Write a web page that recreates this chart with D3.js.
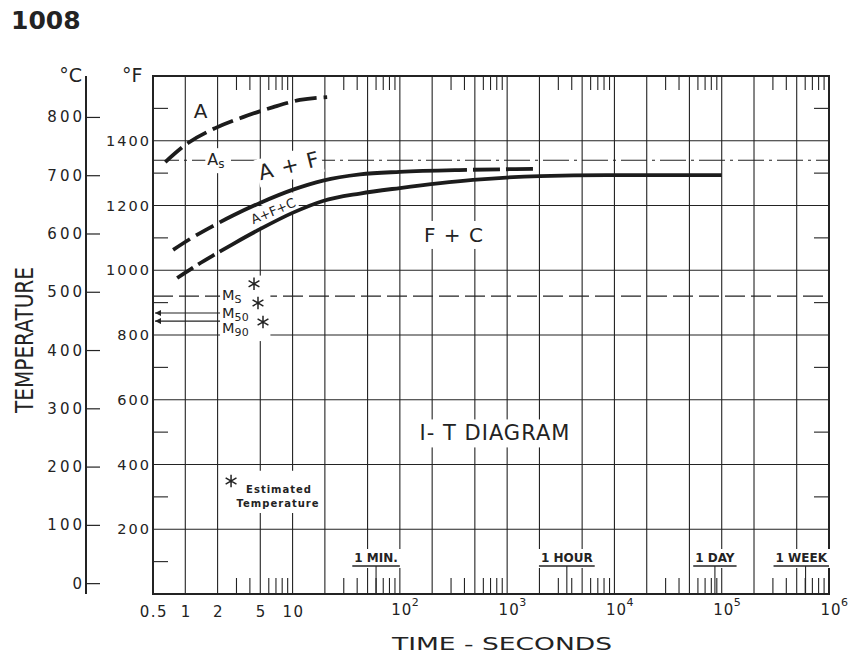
<!DOCTYPE html>
<html>
<head>
<meta charset="utf-8">
<script src="https://cdn.jsdelivr.net/npm/d3@7"></script>
<style>
  body { margin: 0; background: #fff; }
  svg { display: block; font-family: "DejaVu Sans", sans-serif; }
</style>
</head>
<body>
<div id="chart"></div>
<script>
// ---- data (time in seconds, temperature in deg F) ----
const timeDomain = [0.5, 1e6];
const tempDomainF = [0, 1600];

const gridTimes = [1, 2, 5, 10, 20, 50, 100, 200, 500, 1e3, 2e3, 5e3, 1e4, 2e4, 5e4, 1e5, 2e5, 5e5];
const decades = [1, 10, 100, 1e3, 1e4, 1e5];
const minorMults = [3, 4, 6, 7, 8, 9];
const smallTimeTicks = [0.5, 1, 2, 5, 10];
const powerTimeTicks = [2, 3, 4, 5, 6];

const fTicks = [200, 400, 600, 800, 1000, 1200, 1400];
const fMinorTicks = [100, 300, 500, 700, 900, 1100, 1300, 1500];
const cTicks = [0, 100, 200, 300, 400, 500, 600, 700, 800];

// transformation curves
const austeniteLine = [[0.65, 1334], [1.06, 1393], [1.9, 1439], [3.45, 1473], [6.6, 1504], [11.7, 1526], [21, 1535]];
const ferriteStart = [[0.77, 1063], [1.15, 1100], [1.77, 1135], [2.78, 1169], [4.97, 1208], [10.1, 1249], [19.2, 1277], [42.5, 1296], [100, 1304], [422, 1310], [1740, 1313]];
const ferriteSolid = [2.02, 422];     // solid between these times, dashed outside
const carbideStart = [[0.84, 976], [1.23, 1012], [1.89, 1049], [2.78, 1081], [4.97, 1127], [10.1, 1178], [19.2, 1214], [42.5, 1237], [100, 1254], [480, 1279], [2022, 1291], [8510, 1294], [1e5, 1294]];
const carbideSolid = [2.2, 1e5];

// critical temperatures
const asTemp = 1340;
const msTemp = 920;
const mArrows = [{sub: "50", f: 868}, {sub: "90", f: 843}];
const mEstimates = [[4.37, 958], [4.76, 899], [5.3, 840]];
const estimateKey = [2.67, 349];

// labels placed in data units
const regionLabels = [
  {text: "A", t: 1.4, f: 1492},
  {text: "A + F", t: 9.3, f: 1322},
  {text: "A+F+C", t: 6.6, f: 1183},
  {text: "F + C", t: 319, f: 1109},
  {text: "I- T DIAGRAM", t: 770, f: 496}
];
const timeMarks = [
  {text: "1 MIN.", t: 60},
  {text: "1 HOUR", t: 3600},
  {text: "1 DAY", t: 86400},
  {text: "1 WEEK", t: 604800}
];

// ---- styles ----
const ink = "#232323";
const labelStyle = {
  "A": {size: 20, angle: 0},
  "A + F": {size: 21, angle: -14},
  "A+F+C": {size: 13, angle: -23},
  "F + C": {size: 20, angle: 0},
  "I- T DIAGRAM": {size: 21, angle: 0}
};

const W = 854, H = 657;
const svg = d3.select("#chart").append("svg")
  .attr("width", W).attr("height", H);

svg.append("rect").attr("width", W).attr("height", H).attr("fill", "#fff");

const x = d3.scaleLog().domain(timeDomain).range([153, 829]);
const y = d3.scaleLinear().domain(tempDomainF).range([594, 76]);
const yC = c => y(c * 9 / 5 + 32);

// arrow marker for the M50 / M90 pointers
svg.append("defs").append("marker")
  .attr("id", "arrow")
  .attr("viewBox", "0 0 10 10")
  .attr("refX", 10).attr("refY", 5)
  .attr("markerUnits", "userSpaceOnUse")
  .attr("markerWidth", 9).attr("markerHeight", 6)
  .attr("orient", "auto-start-reverse")
  .append("path").attr("d", "M0,0L10,5L0,10z").attr("fill", ink);

// wraps a group in a white box so grid lines break behind it
function whiteBox(g, pad) {
  const b = g.node().getBBox();
  g.insert("rect", ":first-child")
    .attr("x", b.x - pad).attr("y", b.y - pad)
    .attr("width", b.width + 2 * pad).attr("height", b.height + 2 * pad)
    .attr("fill", "#fff");
}

// ---- grid ----
const grid = svg.append("g").attr("stroke", ink).attr("stroke-width", 1.1);
grid.selectAll("line.v").data(gridTimes).join("line").attr("class", "v")
  .attr("x1", d => x(d)).attr("x2", d => x(d))
  .attr("y1", y(1600)).attr("y2", y(0));
grid.selectAll("line.h").data(fTicks).join("line").attr("class", "h")
  .attr("x1", x(0.5)).attr("x2", x(1e6))
  .attr("y1", d => y(d)).attr("y2", d => y(d));

// minor ticks inside the frame
const minorTimes = decades.flatMap(d => minorMults.map(m => m * d));
grid.selectAll("line.mt").data(minorTimes).join("line").attr("class", "mt")
  .attr("x1", d => x(d)).attr("x2", d => x(d))
  .attr("y1", y(1600)).attr("y2", y(1600) + 14);
grid.selectAll("line.mb").data(minorTimes).join("line").attr("class", "mb")
  .attr("x1", d => x(d)).attr("x2", d => x(d))
  .attr("y1", y(0)).attr("y2", y(0) - 16);
grid.selectAll("line.ml").data(fMinorTicks).join("line").attr("class", "ml")
  .attr("x1", x(0.5)).attr("x2", x(0.5) + 15)
  .attr("y1", d => y(d)).attr("y2", d => y(d));
grid.selectAll("line.mr").data(fMinorTicks).join("line").attr("class", "mr")
  .attr("x1", x(1e6)).attr("x2", x(1e6) - 15)
  .attr("y1", d => y(d)).attr("y2", d => y(d));

// As and Ms reference lines
svg.append("line")
  .attr("x1", x(0.5)).attr("x2", x(1e6))
  .attr("y1", y(asTemp)).attr("y2", y(asTemp))
  .attr("stroke", ink).attr("stroke-width", 1.1)
  .attr("stroke-dasharray", "26,5,3,5");
svg.append("line")
  .attr("x1", x(0.5)).attr("x2", x(1e6))
  .attr("y1", y(msTemp)).attr("y2", y(msTemp))
  .attr("stroke", ink).attr("stroke-width", 1.1)
  .attr("stroke-dasharray", "20,6");
svg.selectAll("line.marrow").data(mArrows).join("line").attr("class", "marrow")
  .attr("x1", x(0.5) + 2).attr("x2", x(2.2))
  .attr("y1", d => y(d.f)).attr("y2", d => y(d.f))
  .attr("stroke", ink).attr("stroke-width", 1.1)
  .attr("marker-start", "url(#arrow)");

// frame
svg.append("rect")
  .attr("x", x(0.5)).attr("y", y(1600))
  .attr("width", x(1e6) - x(0.5)).attr("height", y(0) - y(1600))
  .attr("fill", "none").attr("stroke", ink).attr("stroke-width", 2);

// ---- Celsius axis ----
const cAxis = svg.append("g").attr("fill", ink).attr("stroke", ink);
cAxis.append("line")
  .attr("x1", 86).attr("x2", 86).attr("y1", y(1600)).attr("y2", y(0))
  .attr("stroke-width", 2);
cAxis.selectAll("line.ct").data(cTicks).join("line").attr("class", "ct")
  .attr("x1", 86).attr("x2", 100)
  .attr("y1", d => yC(d)).attr("y2", d => yC(d)).attr("stroke-width", 1.2);
cAxis.selectAll("text").data(cTicks).join("text")
  .attr("stroke", "none")
  .attr("x", 85).attr("y", d => yC(d))
  .attr("text-anchor", "end").attr("dominant-baseline", "central")
  .attr("font-size", 15).attr("letter-spacing", 3)
  .text(d => d);

// ---- Fahrenheit labels ----
svg.append("g").selectAll("text").data(fTicks).join("text")
  .attr("x", 151).attr("y", d => y(d))
  .attr("text-anchor", "end").attr("dominant-baseline", "central")
  .attr("font-size", 14.5).attr("letter-spacing", 2).attr("fill", ink)
  .text(d => d);

svg.append("text").attr("x", 82).attr("y", 82).attr("text-anchor", "end")
  .attr("font-size", 19).attr("fill", ink).text("°C");
svg.append("text").attr("x", 122).attr("y", 82)
  .attr("font-size", 19).attr("fill", ink).text("°F");

// ---- time axis labels ----
const xl = svg.append("g").attr("fill", ink);
xl.selectAll("text.s").data(smallTimeTicks).join("text").attr("class", "s")
  .attr("x", d => x(d) + 1).attr("y", 617)
  .attr("text-anchor", "middle").attr("font-size", 15).attr("letter-spacing", 1.5)
  .text(d => d);
const pw = xl.selectAll("g.p").data(powerTimeTicks).join("g").attr("class", "p")
  .attr("transform", d => `translate(${x(Math.pow(10, d))},0)`);
pw.append("text").attr("x", 2).attr("y", 615).attr("text-anchor", "middle")
  .attr("font-size", 15).attr("letter-spacing", 1).text("10");
pw.append("text").attr("x", 12).attr("y", 606)
  .attr("font-size", 11).text(d => d);

svg.append("text")
  .attr("x", 502).attr("y", 650).attr("text-anchor", "middle")
  .attr("font-size", 18).attr("fill", ink)
  .attr("textLength", 220).attr("lengthAdjust", "spacingAndGlyphs")
  .text("TIME - SECONDS");

svg.append("text")
  .attr("transform", "translate(33,340) rotate(-90)")
  .attr("text-anchor", "middle")
  .attr("font-size", 25).attr("fill", ink)
  .attr("textLength", 146).attr("lengthAdjust", "spacingAndGlyphs")
  .text("TEMPERATURE");

svg.append("text")
  .attr("x", 11).attr("y", 29)
  .attr("font-size", 25).attr("font-weight", "bold").attr("fill", ink)
  .text("1008");

// ---- time markers (1 min, 1 hour ...) ----
const tm = svg.selectAll("g.tm").data(timeMarks).join("g").attr("class", "tm");
tm.each(function (d) {
  const g = d3.select(this);
  const lab = g.append("text")
    .attr("y", 562).attr("text-anchor", "middle")
    .attr("font-size", 12).attr("font-weight", "bold").attr("fill", ink)
    .text(d.text);
  const w = lab.node().getComputedTextLength();
  const cx = Math.min(x(d.t), x(1e6) - w / 2 - 2);
  lab.attr("x", cx);
  g.append("line")
    .attr("x1", cx - w / 2 - 2).attr("x2", cx + w / 2 + 2)
    .attr("y1", 566).attr("y2", 566)
    .attr("stroke", ink).attr("stroke-width", 1.3);
  whiteBox(g, 2);
  g.append("line")
    .attr("x1", x(d.t)).attr("x2", x(d.t))
    .attr("y1", 566).attr("y2", y(0))
    .attr("stroke", ink).attr("stroke-width", 1.1);
});

// ---- region labels ----
regionLabels.forEach(d => {
  const s = labelStyle[d.text];
  const g = svg.append("g")
    .attr("transform", `translate(${x(d.t)},${y(d.f)}) rotate(${s.angle})`);
  g.append("text")
    .attr("text-anchor", "middle").attr("dominant-baseline", "central")
    .attr("font-size", s.size).attr("fill", ink)
    .attr("letter-spacing", s.size > 15 ? 1 : 0)
    .text(d.text);
  whiteBox(g, 2);
});

// As label sitting on the dash-dot line
const asLab = svg.append("g");
const asText = asLab.append("text")
  .attr("x", x(1.93)).attr("y", y(asTemp) + 5)
  .attr("text-anchor", "middle")
  .attr("font-size", 16).attr("fill", ink);
asText.append("tspan").text("A");
asText.append("tspan").attr("dy", 3).attr("font-size", 12).text("s");
whiteBox(asLab, 2);

// Ms / M50 / M90 labels with estimated points
const asterisk = d3.symbol().type(d3.symbolAsterisk || d3.symbolCross).size(110);
const mLab = svg.append("g");
const mRows = [{sub: "S", f: msTemp, dy: -1}].concat(mArrows.map((d, i) => ({sub: d.sub, f: d.f, dy: i === 0 ? 0 : 7})));
mRows.forEach(r => {
  const t = mLab.append("text")
    .attr("x", x(2.2)).attr("y", y(r.f) + r.dy + 5)
    .attr("font-size", 14.5).attr("fill", ink);
  t.append("tspan").text("M");
  t.append("tspan").attr("dy", 3).attr("font-size", 11).attr("letter-spacing", 0.3).text(r.sub);
});
mLab.selectAll("path").data(mEstimates).join("path")
  .attr("transform", d => `translate(${x(d[0])},${y(d[1])})`)
  .attr("d", asterisk)
  .attr("fill", "none").attr("stroke", ink).attr("stroke-width", 1.5);
whiteBox(mLab, 2);

// key: estimated temperature
const key = svg.append("g")
  .attr("transform", `translate(${x(estimateKey[0])},${y(estimateKey[1])})`);
key.append("path").attr("d", asterisk)
  .attr("fill", "none").attr("stroke", ink).attr("stroke-width", 1.5);
key.append("text").attr("x", 48).attr("y", 12).attr("text-anchor", "middle")
  .attr("font-size", 10).attr("font-weight", "bold").attr("letter-spacing", 1)
  .attr("fill", ink).text("Estimated");
key.append("text").attr("x", 47).attr("y", 26).attr("text-anchor", "middle")
  .attr("font-size", 10).attr("font-weight", "bold").attr("letter-spacing", 1)
  .attr("fill", ink).text("Temperature");
whiteBox(key, 4);

// ---- transformation curves ----
const line = d3.line()
  .x(d => x(d[0])).y(d => y(d[1]))
  .curve(d3.curveMonotoneX);

// dash pattern: dashed before t0, solid from t0 to t1, dashed again after t1
function mixedDash(node, t0, t1, head, tail) {
  const total = node.getTotalLength();
  const lengthAt = t => {
    const xs = x(t);
    let lo = 0, hi = total;
    for (let i = 0; i < 30; i++) {
      const m = (lo + hi) / 2;
      if (node.getPointAtLength(m).x < xs) lo = m; else hi = m;
    }
    return lo;
  };
  const l1 = lengthAt(t0), l2 = Math.min(lengthAt(t1), total);
  const arr = [];
  let pos = 0;
  while (pos + head[0] <= l1) { arr.push(head[0], head[1]); pos += head[0] + head[1]; }
  arr.push(Math.max(l2 - pos, 0)); pos = Math.max(l2, pos);
  while (pos < total - 1) { arr.push(tail[1], tail[0]); pos += tail[1] + tail[0]; }
  arr.push(total + 20);
  return arr.join(",");
}

const curveG = svg.append("g")
  .attr("fill", "none").attr("stroke", "#1c1c1c").attr("stroke-width", 3.8);
curveG.append("path").attr("d", line(austeniteLine)).attr("stroke-dasharray", "22,7");
const fPath = curveG.append("path").attr("d", line(ferriteStart));
fPath.attr("stroke-dasharray", mixedDash(fPath.node(), ferriteSolid[0], ferriteSolid[1], [20, 7], [27, 6]));
const cPath = curveG.append("path").attr("d", line(carbideStart));
cPath.attr("stroke-dasharray", mixedDash(cPath.node(), carbideSolid[0], carbideSolid[1], [19, 6], [19, 6]));
</script>
</body>
</html>
